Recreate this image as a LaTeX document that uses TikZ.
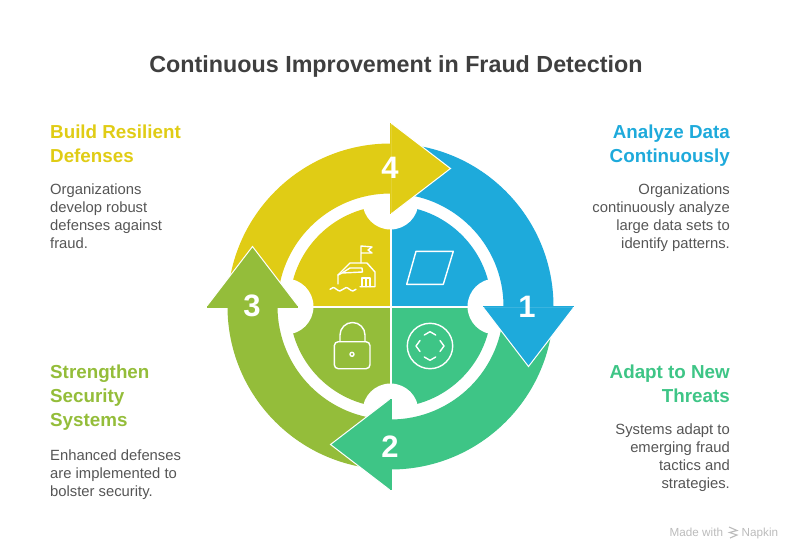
\documentclass[tikz,border=0pt]{standalone}
\usepackage{fontspec}
\setmainfont{Liberation Sans}
\usetikzlibrary{positioning}
\definecolor{ringyellow}{HTML}{E0CC15}
\definecolor{ringblue}{HTML}{1EAADB}
\definecolor{ringgreen}{HTML}{3EC586}
\definecolor{ringolive}{HTML}{94BD3A}
\definecolor{titlegray}{HTML}{3F3F3F}
\definecolor{bodygray}{HTML}{555555}
\definecolor{markgray}{HTML}{BBBBBB}
\tikzset{
  headtext/.style={font=\fontsize{18.8}{24}\selectfont\bfseries, inner sep=0pt},
  bodytext/.style={font=\fontsize{14.8}{18}\selectfont, text=bodygray, inner sep=0pt},
  digit/.style={font=\fontsize{31}{31}\selectfont\bfseries, text=white, inner sep=0pt},
  marktext/.style={font=\fontsize{11.7}{12}\selectfont, text=markgray, inner sep=0pt, anchor=base west},
  icon/.style={draw=white, line width=1.4pt, line join=round, line cap=round},
}
\begin{document}
\begin{tikzpicture}[x=1pt, y=1pt]
  \useasboundingbox (0,0) rectangle (792,550);
  %----- sectors, notches -----
  \def\sector#1#2{ % (rotation, colour)
    \begin{scope}[shift={(390.5,243.5)}, rotate=#1]
      \fill[#2] (0,0) -- (0,101) arc (90:180:101) -- cycle;
    \end{scope}
  }
  \sector{0}{ringyellow}
  \sector{-90}{ringblue}
  \sector{-180}{ringgreen}
  \sector{-270}{ringolive}
  % white cross
  \fill[white] (389.5,140) rectangle (391.5,350);
  \fill[white] (285,242.5) rectangle (496,244.5);
  \foreach \a in {0,90,180,270}
    \fill[white] (390.5,243.5) ++(\a:105) circle (28);
  %----- ring bands, then heads on top -----
  \def\band#1#2{ % (rotation, colour)
    \begin{scope}[shift={(390.5,243.5)}, rotate=#1]
      \fill[#2] (0,113) arc (90:180:113) -- (-163,0) arc (180:90:163) -- cycle;
    \end{scope}
  }
  \def\head#1#2{ % (rotation, colour)
    \begin{scope}[shift={(390.5,243.5)}, rotate=#1]
      \draw[white, line width=1pt, fill=#2, line join=miter] (0,92) -- (60,138) -- (0,184) -- cycle;
      \fill[#2] (-1,92.5) rectangle (0.4,183.5);
    \end{scope}
  }
  \band{0}{ringyellow}
  \band{-90}{ringblue}
  \band{-180}{ringgreen}
  \band{-270}{ringolive}
  \head{0}{ringyellow}
  \head{-90}{ringblue}
  \head{-180}{ringgreen}
  \head{-270}{ringolive}
  \node[digit] (num4) at (390,382) {4};
  \node[digit] (num1) at (527,243) {1};
  \node[digit] (num2) at (390,103) {2};
  \node[digit] (num3) at (252,244) {3};
  %----- icons -----
  % parallelogram
  \draw[icon] (416,298.7) -- (453.3,298.7) -- (443.3,265.7) -- (406.7,265.7) -- cycle;
  % circle with four chevrons
  \draw[icon] (430,204) circle (22.7);
  \draw[icon] (424.3,215) -- (430,218.3) -- (435.7,215);
  \draw[icon] (424.3,193) -- (430,189.7) -- (435.7,193);
  \draw[icon] (420,209.5) -- (416,204) -- (420,198.5);
  \draw[icon] (440,209.5) -- (444,204) -- (440,198.5);
  % lock
  \draw[icon, rounded corners=4pt] (334.3,181.3) rectangle (370,208.3);
  \draw[icon] (340,208.3) -- (340,215) arc (180:0:12.5) -- (365,208.3);
  \draw[icon] (352,195.7) circle (2);
  % building with flag
  \draw[icon] (361,287) -- (361,304) -- (372,303) -- (368,300) -- (372,297) -- (361,297);
  \draw[icon] (360,263.3) -- (375,263.3) -- (375,278) -- (367,287) -- (350,287) -- (338,275) -- (338,266);
  \draw[icon] (338,275) -- (342,277) -- (350,282) -- (362,282) -- (362.5,278) -- (342,277);
  \draw[icon] (362,263.3) -- (362,272) -- (370,272) -- (370,263.3) (366,263.3) -- (366,272);
  \draw[icon] (330,260.7) .. controls (332,263) and (334,263) .. (336.5,260.7) .. controls (339,258.5) and (341,258.5) .. (343,260.7) .. controls (345,263) and (347,263) .. (349.5,260.7) .. controls (352,258.5) and (354,258.5) .. (356,260.7);
  %----- texts -----
  \node[font=\fontsize{23.3}{28}\selectfont\bfseries, text=titlegray, inner sep=0pt] (title) at (396,483.5) {Continuous Improvement in Fraud Detection};
  \node[headtext, text=ringyellow, anchor=north west, align=left] (buildhead) at (50,425) {Build Resilient\\Defenses};
  \node[bodytext, anchor=north west, align=left] (buildbody) at (50,366.5) {Organizations\\develop robust\\defenses against\\fraud.};
  \node[headtext, text=ringblue, anchor=north east, align=right] (datahead) at (730,425) {Analyze Data\\Continuously};
  \node[bodytext, anchor=north east, align=right] (databody) at (730,366.5) {Organizations\\continuously analyze\\large data sets to\\identify patterns.};
  \node[headtext, text=ringolive, anchor=north west, align=left] (securehead) at (50,185) {Strengthen\\Security\\Systems};
  \node[bodytext, anchor=north west, align=left] (securebody) at (50,100.5) {Enhanced defenses\\are implemented to\\bolster security.};
  \node[headtext, text=ringgreen, anchor=north east, align=right] (adapthead) at (730,185) {Adapt to New\\Threats};
  \node[bodytext, anchor=north east, align=right] (adaptbody) at (730,126.5) {Systems adapt to\\emerging fraud\\tactics and\\strategies.};
  %----- footer mark -----
  \node[marktext] (made) at (669.5,13.5) {Made with};
  \node[marktext] (napkin) at (741.5,13.5) {Napkin};
  \draw[markgray, line width=1.1pt] (729,23) -- (737,19.5) -- (729.5,17.5) -- (737,15) -- (730,12);
\end{tikzpicture}
\end{document}
